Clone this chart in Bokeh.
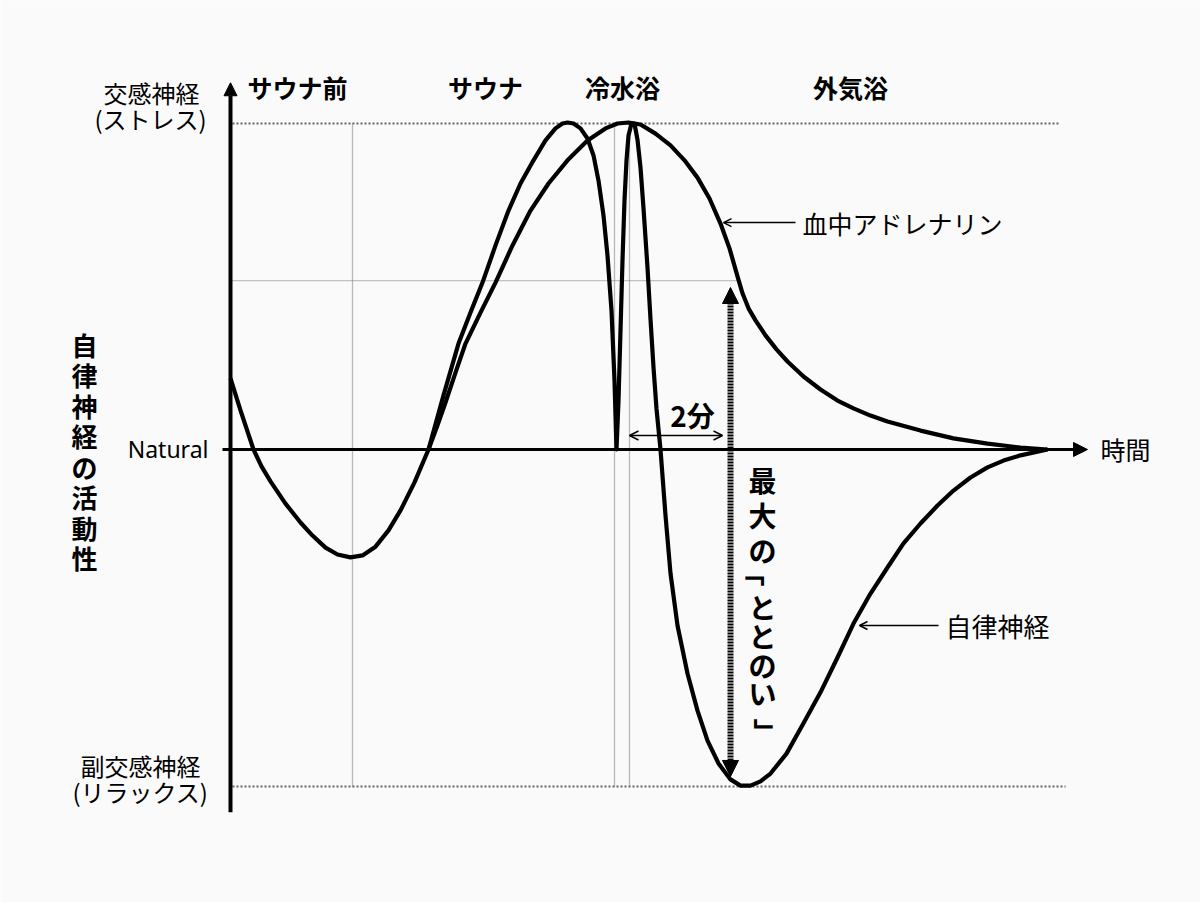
import math
from bokeh.plotting import figure
from bokeh.models import Range1d, Arrow, NormalHead, OpenHead
from bokeh.core.properties import value
from bokeh.embed import file_html
from bokeh.resources import INLINE

# ---- data (time units along x, activity units along y: +100 = max sympathetic, 0 = natural) ----
auto_t = [0.0, 1.0, 2.3, 3.1, 4.0, 5.5, 7.0, 8.2, 9.5, 10.7, 12.0, 13.2, 14.5, 15.8, 17.0, 18.4,
          19.8, 21.3, 22.8, 24.0, 25.2, 26.5, 27.8, 29.0, 30.3, 31.5, 32.5, 33.2, 33.7, 34.3, 35.0,
          35.7, 36.3, 36.8, 37.3, 37.7, 38.1, 38.4, 38.6,
          38.8, 39.0, 39.2, 39.4, 39.6, 39.8, 40.1, 40.4, 40.7, 41.0, 41.3, 41.7, 42.0, 42.3, 42.6, 43.0,
          43.5, 44.0, 44.7, 45.7, 46.7, 47.7, 48.8, 50.0, 51.0, 52.0, 53.0, 54.0, 55.6, 57.3, 59.0,
          60.7, 62.3, 64.0, 65.7, 67.3, 69.0, 70.7, 72.3, 74.0, 75.7, 77.3, 79.0, 81.7]
auto_v = [21.8, 12.0, 0.0, -5.2, -9.8, -16.6, -22.4, -26.4, -30.1, -32.2, -33.1, -32.5, -29.8, -24.8, -18.7, -10.1,
          0.0, 16.6, 32.5, 42.0, 51.2, 62.6, 73.3, 81.6, 88.7, 94.8, 98.5, 100.0, 100.3, 100.0, 98.5,
          95.4, 90.2, 82.5, 71.8, 59.5, 42.6, 21.2, 0.0,
          15.0, 36.5, 58.0, 76.4, 88.7, 96.3, 100.0, 100.0, 95.0, 86.5, 74.0, 55.8, 40.0, 25.2, 12.5, 0.0,
          -20.2, -38.0, -54.0, -68.7, -80.1, -89.3, -96.3, -101.2, -103.1, -103.1, -101.8, -99.4, -93.3, -84.0, -74.5,
          -63.8, -53.4, -44.2, -36.2, -28.8, -22.7, -17.2, -12.6, -8.6, -5.5, -3.4, -1.8, 0.0]

adr_t = [19.8, 20.7, 21.5, 22.5, 23.5, 25.0, 26.5, 28.2, 30.0, 31.8, 33.7, 35.7, 37.5, 38.7, 39.8,
         41.0, 42.5, 44.0, 45.4, 46.7, 47.9, 49.0, 49.9, 50.7, 51.2, 51.8, 52.5, 53.5, 54.6, 55.7,
         57.3, 59.0, 60.7, 62.3, 64.0, 65.7, 69.0, 72.3, 75.7, 79.0, 81.7]
adr_v = [0.0, 7.4, 14.4, 23.6, 32.5, 42.0, 51.2, 62.6, 73.3, 81.6, 88.7, 94.8, 98.5, 100.0, 100.3,
         99.7, 96.9, 93.3, 88.7, 83.4, 77.0, 69.3, 61.7, 53.1, 47.9, 43.3, 39.6, 35.0, 30.7, 27.0,
         22.4, 18.4, 15.0, 12.6, 10.4, 8.6, 5.8, 3.4, 1.8, 0.6, 0.0]

phase_labels = ["サウナ前", "サウナ", "冷水浴", "外気浴"]
phase_centers = [6.7, 25.5, 39.2, 62.0]
phase_bounds = [12.2, 38.4, 39.9]          # end of pre-sauna, cold bath start / end

max_level = 100.0       # 交感神経 (ストレス)
min_level = -103.4      # 副交感神経 (リラックス)
totonoi_level = 51.8    # adrenaline level at maximum "ととのい"
totonoi_time = 50.0
two_min_start = 39.9
two_min_end = 49.2
end_time = 83.5

y_title = "自律神経の活動性"
totonoi_text = "最大の「ととのい」"

JP = value("Noto Sans CJK JP")
BG = "#fafafa"
PX = 1 / 3.26   # activity units per screen pixel (vertical)

p = figure(width=1200, height=902, x_range=Range1d(-23, 97), y_range=Range1d(-138.96, 137.73),
           output_backend="svg", toolbar_location=None, min_border=0,
           x_axis_type=None, y_axis_type=None,
           background_fill_color=BG, border_fill_color=BG, outline_line_color=None)
p.xgrid.visible = False
p.ygrid.visible = False

# reference lines
p.line([0.2, end_time - 0.5], [max_level, max_level], line_color="#666666", line_width=2, line_dash="2 2")
p.line([0.2, end_time], [min_level, min_level], line_color="#666666", line_width=2, line_dash="2 2")
p.line([0.0, totonoi_time + 0.7], [totonoi_level, totonoi_level], line_color="#888888", line_width=1.3, line_dash="1 1")
for b in phase_bounds:
    p.line([b, b], [max_level, min_level], line_color="#777777", line_width=1.3, line_dash="1 1")

# axes with arrows
p.add_layout(Arrow(end=NormalHead(size=13, fill_color="black", line_color="black"),
                   x_start=0.0, y_start=-111.3, x_end=0.0, y_end=112.5,
                   line_width=4, line_color="black"))
p.add_layout(Arrow(end=NormalHead(size=14, fill_color="black", line_color="black"),
                   x_start=-0.8, y_start=0, x_end=85.7, y_end=0,
                   line_width=3, line_color="black"))

# curves
p.line(adr_t, adr_v, line_color="black", line_width=4.2, line_join="round")
p.line(auto_t, auto_v, line_color="black", line_width=4.2, line_join="round")

# 2-minute arrow
p.add_layout(Arrow(start=OpenHead(size=9, line_width=1.5), end=OpenHead(size=9, line_width=1.5),
                   x_start=two_min_start, y_start=4.3, x_end=two_min_end, y_end=4.3,
                   line_width=1.5, line_color="black"))
# maximum totonoi arrow
p.add_layout(Arrow(start=NormalHead(size=16, fill_color="black", line_color="black"),
                   end=NormalHead(size=16, fill_color="black", line_color="black"),
                   x_start=totonoi_time, y_start=49.7, x_end=totonoi_time, y_end=-100.3,
                   line_width=6, line_color="black", line_dash="2 1"))

# pointer arrows for curve labels
p.add_layout(Arrow(end=OpenHead(size=8, line_width=1.5), x_start=56.5, y_start=69.6, x_end=49.3, y_end=69.6,
                   line_width=1.5, line_color="black"))
p.add_layout(Arrow(end=OpenHead(size=8, line_width=1.5), x_start=70.8, y_start=-54.0, x_end=62.9, y_end=-54.0,
                   line_width=1.5, line_color="black"))

# phase labels
p.text(x=phase_centers, y=[111.3] * 4, text=phase_labels, text_font=JP, text_font_style="bold",
       text_font_size="25px", text_align="center", text_baseline="middle", text_color="black")

# y labels
p.text(x=[-7.9, -8.0], y=[109.6, 101.6], text=["交感神経", "(ストレス)"], text_font=JP,
       text_font_size="24px", text_align="center", text_baseline="middle", text_color="black")
p.text(x=[-9.0, -9.0], y=[-97.0, -105.0], text=["副交感神経", "(リラックス)"], text_font=JP,
       text_font_size="24px", text_align="center", text_baseline="middle", text_color="black")
p.text(x=[-2.2], y=[0], text=["Natural"], text_font=value("Noto Sans"),
       text_font_size="23px", text_align="right", text_baseline="middle", text_color="black")

# vertical y title, one character per line
yt_chars = list(y_title)
yt_y = [(449 - (344 + 30.5 * i)) * PX for i in range(len(yt_chars))]
p.text(x=[-14.6] * len(yt_chars), y=yt_y, text=yt_chars, text_font=JP, text_font_style="bold",
       text_font_size="26px", text_align="center", text_baseline="middle", text_color="black")

# other labels
p.text(x=[87.0], y=[0], text=["時間"], text_font=JP, text_font_size="25px",
       text_align="left", text_baseline="middle", text_color="black")
p.text(x=[46.2], y=[10.6], text=["2分"], text_font=JP, text_font_style="bold", text_font_size="28px",
       text_align="center", text_baseline="middle", text_color="black")
p.text(x=[57.2], y=[69.6], text=["血中アドレナリン"], text_font=JP, text_font_size="25px",
       text_align="left", text_baseline="middle", text_color="black")
p.text(x=[71.5], y=[-54.0], text=["自律神経"], text_font=JP, text_font_size="26px",
       text_align="left", text_baseline="middle", text_color="black")

# vertical "最大の「ととのい」": brackets rotated for vertical writing
tt_chars = list(totonoi_text)
tt_py = [480, 515, 550, 572, 607, 636, 665, 693, 732]
tt_px = [762, 762, 762, 750, 762, 762, 762, 762, 768]
tt_angle = [(-math.pi / 2 if c in "「」" else 0.0) for c in tt_chars]
p.text(x=[(x - 230) / 10 for x in tt_px], y=[(449 - y) * PX for y in tt_py], text=tt_chars, angle=tt_angle,
       text_font=JP, text_font_style="bold", text_font_size="28px", text_align="center",
       text_baseline="middle", text_color="black")

open("out.html", "w").write(file_html(p, INLINE))
